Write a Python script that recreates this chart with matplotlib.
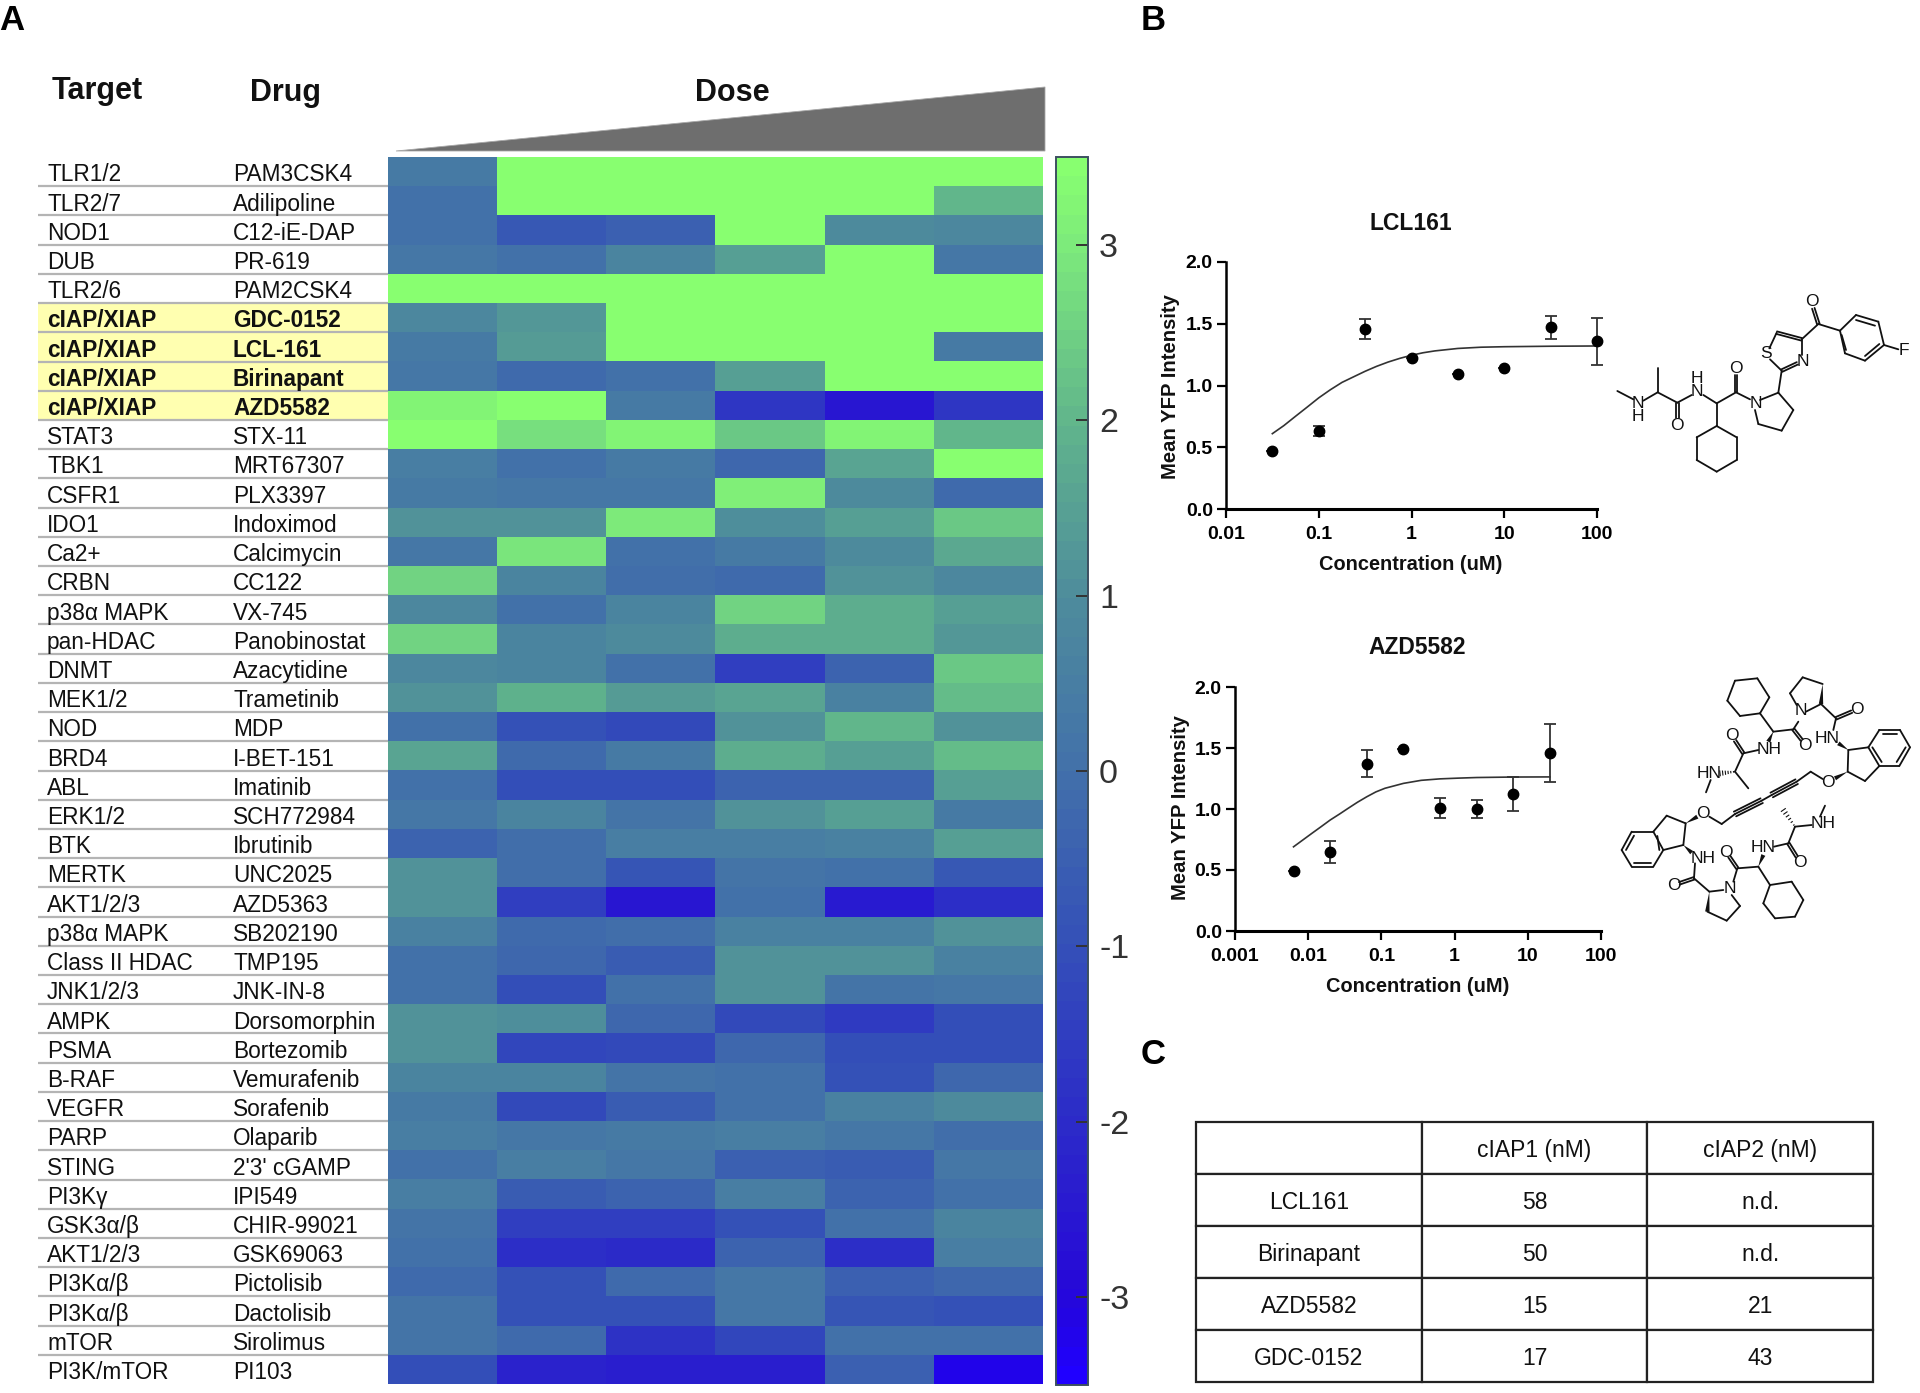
import matplotlib
matplotlib.use("Agg")
import matplotlib.pyplot as plt
import numpy as np
from matplotlib.colors import LinearSegmentedColormap
from matplotlib.patches import Polygon

plt.rcParams['font.family'] = ['Liberation Sans', 'DejaVu Sans']
plt.rcParams['axes.unicode_minus'] = False

# ---------- data ----------
targets = ["TLR1/2", "TLR2/7", "NOD1", "DUB", "TLR2/6", "cIAP/XIAP", "cIAP/XIAP", "cIAP/XIAP", "cIAP/XIAP",
           "STAT3", "TBK1", "CSFR1", "IDO1", "Ca2+", "CRBN", "p38α MAPK", "pan-HDAC", "DNMT", "MEK1/2", "NOD",
           "BRD4", "ABL", "ERK1/2", "BTK", "MERTK", "AKT1/2/3", "p38α MAPK", "Class II HDAC", "JNK1/2/3", "AMPK",
           "PSMA", "B-RAF", "VEGFR", "PARP", "STING", "PI3Kγ", "GSK3α/β", "AKT1/2/3", "PI3Kα/β", "PI3Kα/β",
           "mTOR", "PI3K/mTOR"]
drugs = ["PAM3CSK4", "Adilipoline", "C12-iE-DAP", "PR-619", "PAM2CSK4", "GDC-0152", "LCL-161", "Birinapant", "AZD5582",
         "STX-11", "MRT67307", "PLX3397", "Indoximod", "Calcimycin", "CC122", "VX-745", "Panobinostat", "Azacytidine",
         "Trametinib", "MDP", "I-BET-151", "Imatinib", "SCH772984", "Ibrutinib", "UNC2025", "AZD5363", "SB202190",
         "TMP195", "JNK-IN-8", "Dorsomorphin", "Bortezomib", "Vemurafenib", "Sorafenib", "Olaparib", "2'3' cGAMP",
         "IPI549", "CHIR-99021", "GSK69063", "Pictolisib", "Dactolisib", "Sirolimus", "PI103"]
highlighted = ["cIAP/XIAP"]

values = [
    [0.4, 3.5, 3.5, 3.5, 3.5, 3.5],
    [0.0, 3.5, 3.5, 3.5, 3.5, 2.0],
    [0.1, -0.7, -0.5, 3.5, 0.9, 0.8],
    [0.3, 0.1, 0.7, 1.5, 3.5, 0.3],
    [3.5, 3.5, 3.5, 3.5, 3.5, 3.5],
    [0.8, 1.3, 3.5, 3.5, 3.5, 3.4],
    [0.4, 1.4, 3.5, 3.5, 3.5, 0.4],
    [0.3, -0.2, 0.0, 1.5, 3.5, 3.5],
    [3.2, 3.4, 0.4, -1.7, -2.6, -1.7],
    [3.4, 2.8, 3.2, 2.3, 3.2, 2.0],
    [0.5, 0.1, 0.4, -0.3, 1.6, 3.5],
    [0.4, 0.3, 0.3, 3.1, 0.9, -0.2],
    [1.2, 1.2, 3.0, 1.0, 1.5, 2.3],
    [0.3, 2.9, 0.0, 0.4, 0.9, 1.7],
    [2.6, 0.7, -0.1, -0.2, 1.2, 0.8],
    [0.8, 0.0, 0.7, 2.6, 1.8, 1.5],
    [2.6, 0.7, 0.9, 1.8, 1.8, 1.3],
    [0.8, 0.7, 0.0, -1.5, -0.4, 2.4],
    [1.2, 1.9, 1.4, 1.6, 0.6, 2.1],
    [0.0, -0.9, -1.1, 1.1, 2.0, 1.2],
    [1.6, -0.2, 0.4, 1.8, 1.5, 2.1],
    [0.0, -1.0, -1.0, -0.4, -0.4, 1.5],
    [0.3, 0.7, 0.2, 1.1, 1.5, 0.4],
    [-0.4, -0.1, 0.5, 0.5, 0.6, 1.5],
    [1.2, -0.1, -0.8, 0.2, 0.1, -0.7],
    [1.2, -1.5, -2.6, 0.1, -2.5, -1.9],
    [0.6, -0.2, -0.1, 0.6, 0.6, 1.2],
    [0.1, -0.3, -0.6, 1.1, 1.1, 0.6],
    [0.1, -1.0, 0.1, 1.1, 0.2, 0.3],
    [1.1, 1.0, -0.3, -1.2, -1.6, -1.0],
    [1.1, -1.3, -1.1, -0.3, -1.0, -1.0],
    [0.7, 0.7, 0.2, 0.1, -0.9, -0.3],
    [0.4, -1.2, -0.6, 0.1, 0.6, 0.9],
    [0.5, 0.3, 0.4, 0.5, 0.3, -0.1],
    [0.1, 0.5, 0.3, -0.5, -0.6, 0.3],
    [0.5, -0.6, -0.4, 0.5, -0.4, 0.1],
    [0.2, -1.5, -1.5, -0.9, 0.1, 0.7],
    [0.1, -1.9, -2.0, -0.4, -1.9, 0.5],
    [-0.2, -0.9, -0.2, 0.3, -0.5, -0.3],
    [0.2, -0.9, -0.9, 0.3, -0.8, -0.9],
    [0.2, -0.2, -1.8, -1.3, 0.1, 0.1],
    [-1.0, -2.2, -2.4, -2.3, -0.5, -3.2],
]

lcl_x = [0.0316, 0.1, 0.316, 1, 3.16, 10, 31.6, 100]
lcl_y = [0.47, 0.63, 1.46, 1.22, 1.09, 1.14, 1.47, 1.36]
lcl_err = [0, 0.04, 0.08, 0, 0, 0, 0.09, 0.19]
lcl_fit_x = [0.0316, 0.042, 0.056, 0.075, 0.1, 0.133, 0.178, 0.237, 0.316, 0.42, 0.56, 0.75, 1, 1.33, 1.78, 3.16, 5.6, 10, 31.6, 100]
lcl_fit_y = [0.61, 0.675, 0.75, 0.825, 0.90, 0.965, 1.025, 1.07, 1.115, 1.155, 1.19, 1.22, 1.245, 1.265, 1.28, 1.30, 1.31, 1.314, 1.318, 1.32]

azd_x = [0.0063, 0.02, 0.063, 0.2, 0.63, 2, 6.3, 20]
azd_y = [0.49, 0.65, 1.37, 1.49, 1.01, 1.00, 1.12, 1.46]
azd_err = [0, 0.09, 0.11, 0, 0.08, 0.07, 0.14, 0.24]
azd_fit_x = [0.0063, 0.0084, 0.0112, 0.015, 0.02, 0.027, 0.035, 0.047, 0.063, 0.084, 0.112, 0.15, 0.2, 0.35, 0.63, 1.12, 2, 6.3, 20]
azd_fit_y = [0.69, 0.745, 0.80, 0.855, 0.91, 0.96, 1.005, 1.055, 1.10, 1.14, 1.17, 1.19, 1.21, 1.235, 1.247, 1.253, 1.258, 1.262, 1.263]

table_cols = ["", "cIAP1 (nM)", "cIAP2 (nM)"]
table_rows = [["LCL161", "58", "n.d."],
              ["Birinapant", "50", "n.d."],
              ["AZD5582", "15", "21"],
              ["GDC-0152", "17", "43"]]

W, H = 1920, 1393
fig = plt.figure(figsize=(W / 100, H / 100), dpi=100)


def px_axes(x0, y0, x1, y1):
    # axes from pixel box, y counted from the top
    return fig.add_axes([x0 / W, 1 - y1 / H, (x1 - x0) / W, (y1 - y0) / H])


# ---------- heatmap ----------
cmap = LinearSegmentedColormap.from_list("dose", [
    (0.0, "#2000FF"), (0.25 / 7, "#2204E8"), (0.5 / 7, "#2608D8"), (1.5 / 7, "#2C2CC8"), (2.5 / 7, "#3450B8"),
    (3.5 / 7, "#4270AA"), (4.5 / 7, "#4E8C9C"), (5.5 / 7, "#60B48C"), (6.5 / 7, "#7CE87C"), (1.0, "#88FF70")], N=64)

hm = px_axes(388, 157, 1043, 1384)
im = hm.imshow(values, cmap=cmap, vmin=-3.5, vmax=3.5, aspect="auto", interpolation="nearest")
hm.axis("off")

lab = px_axes(38, 157, 388, 1384)
lab.set_xlim(38, 388)
lab.set_ylim(len(targets), 0)
lab.axis("off")
for i, (t, d) in enumerate(zip(targets, drugs)):
    bold = t in highlighted
    if bold:
        lab.axhspan(i, i + 1, color="#FFFFB0", lw=0, zorder=0)
    if i > 0:
        lab.axhline(i, color="#b4b4b4", lw=1.6, zorder=1)
    w = "bold" if bold else "normal"
    lab.text(47, i + 0.61, t, fontsize=16.3, va="center", fontweight=w, color="#111111")
    lab.text(233, i + 0.61, d, fontsize=16.3, va="center", fontweight=w, color="#111111")

cax = px_axes(1056, 157, 1088, 1385)
cb = fig.colorbar(im, cax=cax)
cb.set_ticks([-3, -2, -1, 0, 1, 2, 3])
cb.set_ticklabels(["-3", "-2", "-1", "0", "1", "2", "3"])
cax.tick_params(direction="in", length=9, width=1.4, color="#333333", labelsize=24.5, labelcolor="#333333", pad=8)
cb.outline.set_edgecolor("#3c5060")
cb.outline.set_linewidth(1.4)

# ---------- dose response ----------
def dose_plot(box, x, y, err, fit_x, fit_y, xlim, xticks, xticklabels):
    ax = px_axes(*box)
    ax.set_xscale("log")
    ax.plot(fit_x, fit_y, color="#333333", lw=1.2)
    ax.errorbar(x, y, yerr=err, fmt="o", ms=7.5, color="black", ecolor="#333333", elinewidth=1.3,
                capsize=4, capthick=1.3, clip_on=False, zorder=3)
    ax.set_xlim(*xlim)
    ax.set_ylim(0, 2)
    ax.spines["top"].set_visible(False)
    ax.spines["right"].set_visible(False)
    ax.spines["left"].set_linewidth(1.8)
    ax.spines["bottom"].set_linewidth(2.2)
    ax.set_xticks(xticks)
    ax.set_xticklabels(xticklabels)
    ax.minorticks_off()
    ax.set_yticks([0, 0.5, 1, 1.5, 2])
    ax.set_yticklabels(["0.0", "0.5", "1.0", "1.5", "2.0"])
    ax.tick_params(length=6.5, width=1.6, labelsize=14, pad=3)
    ax.tick_params(axis="x", pad=5.5)
    for t in ax.get_xticklabels() + ax.get_yticklabels():
        t.set_fontweight("bold")
    return ax


dose_plot((1226, 262, 1597, 509), lcl_x, lcl_y, lcl_err, lcl_fit_x, lcl_fit_y,
          (0.01, 100), [0.01, 0.1, 1, 10, 100], ["0.01", "0.1", "1", "10", "100"])
dose_plot((1235, 687, 1601, 931), azd_x, azd_y, azd_err, azd_fit_x, azd_fit_y,
          (0.001, 100), [0.001, 0.01, 0.1, 1, 10, 100], ["0.001", "0.01", "0.1", "1", "10", "100"])

# ---------- table ----------
tax = px_axes(1196, 1122, 1873, 1382)
tax.axis("off")
tbl = tax.table(cellText=[table_cols] + table_rows, cellLoc="center", bbox=[0, 0, 1, 1])
tbl.auto_set_font_size(False)
tbl.set_fontsize(16.5)
for c in tbl.get_celld().values():
    c.set_linewidth(1.6)
    c.set_edgecolor("#222222")
    c.get_text().set_color("#111111")
    c.get_text().set_va("center_baseline")

# ---------- overlay in pixel coordinates: headers, panel letters, structures ----------
ov = fig.add_axes([0, 0, 1, 1], zorder=10)
ov.set_xlim(0, W)
ov.set_ylim(H, 0)
ov.axis("off")
ov.patch.set_alpha(0)

for s, x, y in [("A", 12, 20), ("B", 1153, 20), ("C", 1153, 1055)]:
    ov.text(x, y, s, fontsize=25, fontweight="bold", ha="center", va="center")
for s, x, y in [("Target", 97, 91), ("Drug", 286, 93), ("Dose", 732, 93)]:
    ov.text(x, y, s, fontsize=22, fontweight="bold", ha="center", va="center", color="#111111")
ov.add_patch(Polygon([(396, 151), (1045, 87), (1045, 151)], closed=True, fc="#6e6e6e", ec="#a8a8a8", lw=0.6))

for s, x, y, size in [("LCL161", 1411, 223, 16.5), ("AZD5582", 1417, 647, 16.5),
                      ("Concentration (uM)", 1411, 565, 14.4), ("Concentration (uM)", 1418, 987, 14.4)]:
    ov.text(x, y, s, fontsize=size, fontweight="bold", ha="center", va="center", color="#111111")
ov.text(1170, 387, "Mean YFP Intensity", fontsize=14.6, fontweight="bold", rotation=90,
        ha="center", va="center", color="#111111")
ov.text(1180, 808, "Mean YFP Intensity", fontsize=14.6, fontweight="bold", rotation=90,
        ha="center", va="center", color="#111111")


def draw_mol(ox, oy, bonds, wedges, hashes, atoms, lw=1.3):
    # structure sketches, coordinates taken at 3x from the origin ox, oy
    for b in bonds:
        p = np.array(b[0], float) / 3 + (ox, oy)
        q = np.array(b[1], float) / 3 + (ox, oy)
        n = b[2] if len(b) > 2 else 1
        d = q - p
        nrm = np.array([-d[1], d[0]]) / np.hypot(*d)
        if n == 1:
            offs = [0]
        elif n == 2:
            offs = [-1.3, 1.3]
        else:
            offs = [-2.6, 0, 2.6]
        for o in offs:
            ov.plot([p[0] + nrm[0] * o, q[0] + nrm[0] * o], [p[1] + nrm[1] * o, q[1] + nrm[1] * o],
                    color="#111111", lw=lw, solid_capstyle="round")
    for a, c in wedges:
        p = np.array(a, float) / 3 + (ox, oy)
        q = np.array(c, float) / 3 + (ox, oy)
        d = q - p
        nrm = np.array([-d[1], d[0]]) / np.hypot(*d) * 2.2
        ov.add_patch(Polygon([p, q + nrm, q - nrm], closed=True, fc="#111111", ec="none"))
    for a, c in hashes:
        p = np.array(a, float) / 3 + (ox, oy)
        q = np.array(c, float) / 3 + (ox, oy)
        d = q - p
        nrm = np.array([-d[1], d[0]]) / np.hypot(*d)
        for f in np.linspace(0.1, 1, 6):
            m = p + d * f
            ov.plot([m[0] - nrm[0] * 2.4 * f, m[0] + nrm[0] * 2.4 * f],
                    [m[1] - nrm[1] * 2.4 * f, m[1] + nrm[1] * 2.4 * f], color="#111111", lw=0.8)
    for s, x, y in atoms:
        ov.text(ox + x / 3, oy + y / 3, s, fontsize=12.5, ha="center", va="center", color="#111111")


def ring(pts):
    return [(pts[i], pts[(i + 1) % len(pts)]) for i in range(len(pts))]


lcl_bonds = [
    ((22, 333), (70, 358)), ((100, 362), (143, 337)), ((143, 337), (143, 265)), ((143, 337), (202, 368)),
    ((202, 368), (202, 415), 2), ((202, 368), (245, 345)), ((280, 345), (320, 370)), ((320, 370), (378, 337)),
    ((320, 370), (320, 438)), ((378, 337), (378, 285), 2), ((378, 337), (420, 358)),
    ((450, 360), (505, 338)), ((505, 338), (550, 390)), ((550, 390), (515, 452)), ((515, 452), (445, 432)),
    ((445, 432), (435, 390)), ((505, 338), (515, 272)),
    ((515, 272), (562, 250), 2), ((575, 225), (575, 178)), ((575, 178), (500, 158), 2),
    ((500, 158), (478, 205)), ((480, 238), (515, 272)),
    ((575, 178), (625, 132)), ((625, 132), (610, 85), 2), ((625, 132), (690, 152)),
    ((738, 120), (795, 137)), ((808, 192), (765, 228)), ((708, 210), (695, 165)),
    ((822, 195), (865, 208)),
]
lcl_bonds += ring([(320, 438), (380, 472), (380, 540), (320, 575), (260, 540), (260, 472)])
lcl_bonds += ring([(690, 152), (738, 105), (805, 125), (822, 195), (765, 242), (705, 220)])
lcl_atoms = [("N", 85, 370), ("H", 85, 410), ("O", 200, 438), ("N", 262, 335), ("H", 262, 295), ("O", 378, 265),
             ("N", 437, 372), ("S", 468, 222), ("N", 578, 243), ("O", 605, 63), ("F", 882, 212)]
draw_mol(1610, 280, lcl_bonds, [], [], lcl_atoms)

azd_bonds = [
    ((420, 130), (460, 185)), ((460, 185), (520, 178)), ((520, 178), (535, 155)), ((520, 178), (545, 210), 2),
    ((415, 240), (370, 250)), ((370, 250), (345, 212), 2), ((370, 250), (345, 305)), ((345, 305), (385, 355)),
    ((272, 330), (258, 367)),
    ((530, 105), (510, 70)), ((510, 70), (548, 22)), ((548, 22), (608, 42)), ((603, 102), (558, 125)),
    ((603, 102), (648, 145)), ((648, 145), (695, 125), 2), ((648, 145), (640, 180)),
    ((685, 240), (745, 232)), ((685, 240), (683, 305)), ((778, 288), (735, 333)), ((735, 333), (683, 305)),
    ((788, 192), (832, 192)), ((857, 232), (830, 276)), ((785, 276), (757, 232)),
    ((608, 327), (572, 305)), ((572, 305), (530, 335)), ((530, 335), (455, 375), 3), ((455, 375), (425, 392)),
    ((425, 392), (345, 432), 3), ((345, 432), (305, 462)), ((305, 462), (268, 440)),
    ((197, 460), (140, 437)), ((140, 437), (100, 485)), ((197, 460), (190, 525)), ((190, 525), (130, 540)),
    ((112, 498), (118, 540)), ((92, 578), (42, 578)), ((18, 540), (42, 497)),
    ((225, 580), (222, 625)), ((222, 625), (178, 640), 2), ((222, 625), (268, 665)), ((262, 725), (320, 752)),
    ((320, 752), (360, 708)), ((360, 708), (335, 675)), ((310, 660), (268, 665)),
    ((340, 635), (352, 595)), ((352, 595), (328, 560), 2), ((352, 595), (415, 590)),
    ((462, 530), (505, 520)), ((505, 520), (530, 560), 2), ((505, 520), (525, 470)), ((525, 470), (575, 465)),
    ((600, 440), (615, 407)), ((415, 590), (450, 645)),
]
azd_bonds += ring([(345, 32), (412, 25), (448, 82), (420, 130), (360, 138), (322, 92)])
azd_bonds += ring([(745, 232), (778, 180), (840, 180), (870, 232), (838, 288), (778, 288)])
azd_bonds += ring([(100, 485), (130, 540), (100, 590), (35, 590), (5, 540), (35, 485)])
azd_bonds += ring([(450, 645), (515, 635), (550, 690), (525, 740), (465, 745), (430, 700)])
azd_wedges = [((460, 185), (445, 215)), ((608, 42), (603, 102)), ((685, 240), (655, 220)), ((683, 305), (645, 325)),
              ((197, 460), (232, 440)), ((190, 525), (215, 548)), ((268, 665), (262, 725)), ((415, 590), (430, 555))]
azd_hashes = [((345, 305), (300, 310)), ((525, 470), (490, 420))]
azd_atoms = [("O", 335, 197), ("N", 543, 122), ("O", 555, 228), ("NH", 447, 238), ("HN", 268, 310), ("O", 710, 120),
             ("HN", 622, 205), ("O", 625, 337), ("O", 250, 432), ("NH", 250, 565), ("O", 163, 645), ("N", 330, 655),
             ("O", 318, 547), ("HN", 430, 532), ("O", 540, 578), ("NH", 608, 462)]
draw_mol(1620, 670, azd_bonds, azd_wedges, azd_hashes, azd_atoms)

fig.savefig("out.png", dpi=100)
plt.close()
